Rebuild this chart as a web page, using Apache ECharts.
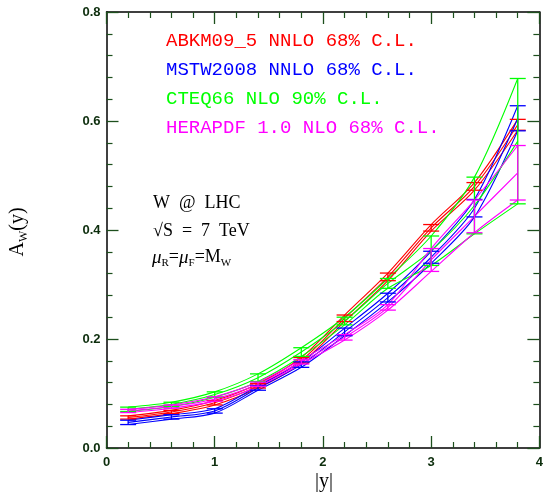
<!DOCTYPE html>
<html>
<head>
<meta charset="utf-8">
<script src="https://cdn.jsdelivr.net/npm/echarts@6/dist/echarts.min.js"></script>
<style>
html,body{margin:0;padding:0;background:#fff;}
#chart{width:546px;height:495px;}
</style>
</head>
<body>
<div id="chart"></div>
<script>
// |y| rapidity points
const xVals = [0.2, 0.6, 1.0, 1.4, 1.8, 2.2, 2.6, 3.0, 3.4, 3.8];

// ABKM09_5 NNLO 68% C.L.
const abkmMid = [0.056, 0.066, 0.083, 0.114, 0.161, 0.238, 0.314, 0.404, 0.480, 0.593];
const abkmErr = [0.003, 0.003, 0.004, 0.004, 0.005, 0.006, 0.007, 0.006, 0.007, 0.010];

// MSTW2008 NNLO 68% C.L.
const mstwMid = [0.047, 0.057, 0.068, 0.110, 0.153, 0.213, 0.276, 0.350, 0.440, 0.605];
const mstwErr = [0.004, 0.004, 0.004, 0.004, 0.005, 0.007, 0.008, 0.011, 0.016, 0.023];

// CTEQ66 NLO 90% C.L.
const cteqMid = [0.071, 0.080, 0.098, 0.129, 0.176, 0.233, 0.302, 0.362, 0.445, 0.563];
const cteqErr = [0.004, 0.004, 0.005, 0.007, 0.008, 0.007, 0.009, 0.027, 0.052, 0.115];

// HERAPDF 1.0 NLO 68% C.L.
const heraMid = [0.068, 0.076, 0.090, 0.117, 0.158, 0.203, 0.258, 0.345, 0.425, 0.505];
const heraErr = [0.003, 0.003, 0.004, 0.004, 0.004, 0.005, 0.005, 0.021, 0.030, 0.050];

const legendTexts = ['ABKM09_5 NNLO 68% C.L.', 'MSTW2008 NNLO 68% C.L.', 'CTEQ66 NLO 90% C.L.', 'HERAPDF 1.0 NLO 68% C.L.'];
const xTicks = [0, 1, 2, 3, 4];
const yTicks = [0.0, 0.2, 0.4, 0.6, 0.8];

const groups = [
  {name: legendTexts[0], mid: abkmMid, err: abkmErr, color: '#ff0000'},
  {name: legendTexts[1], mid: mstwMid, err: mstwErr, color: '#0000ff'},
  {name: legendTexts[2], mid: cteqMid, err: cteqErr, color: '#00ff00'},
  {name: legendTexts[3], mid: heraMid, err: heraErr, color: '#ff00ff'}
];

const chart = echarts.init(document.getElementById('chart'), null, {renderer: 'canvas'});
const tickColor = '#1d4f1d';
const labelColor = '#0d2e0d';

function mkX(pos, show) {
  return {
    type: 'value', min: 0, max: 4, interval: 1, position: pos,
    axisLine: {show: true, onZero: false, lineStyle: {color: '#000', width: 1.5}},
    axisTick: {show: true, inside: true, length: 12, lineStyle: {color: tickColor, width: 1.3}},
    minorTick: {show: true, splitNumber: 5, length: 6, lineStyle: {color: tickColor, width: 1.2}},
    splitLine: {show: false},
    axisLabel: {show: show, margin: 8, color: labelColor, fontWeight: 'bold', fontSize: 13,
      fontFamily: 'Liberation Sans, Arial, sans-serif',
      formatter: v => xTicks.indexOf(v) >= 0 ? String(v) : ''}
  };
}
function mkY(pos, show) {
  return {
    type: 'value', min: 0, max: 0.8, interval: 0.2, position: pos,
    axisLine: {show: true, onZero: false, lineStyle: {color: '#000', width: 1.5}},
    axisTick: {show: true, inside: true, length: 12, lineStyle: {color: tickColor, width: 1.3}},
    minorTick: {show: true, splitNumber: 5, length: 6, lineStyle: {color: tickColor, width: 1.2}},
    splitLine: {show: false},
    axisLabel: {show: show, margin: 6, color: labelColor, fontWeight: 'bold', fontSize: 13,
      fontFamily: 'Liberation Sans, Arial, sans-serif',
      formatter: v => v.toFixed(1)}
  };
}

const series = [];
groups.forEach(g => {
  const lo = xVals.map((x, i) => [x, +(g.mid[i] - g.err[i]).toFixed(4)]);
  const md = xVals.map((x, i) => [x, g.mid[i]]);
  const hi = xVals.map((x, i) => [x, +(g.mid[i] + g.err[i]).toFixed(4)]);
  [lo, md, hi].forEach(d => {
    series.push({
      type: 'line', data: d, smooth: 0.3, symbol: 'none',
      lineStyle: {color: g.color, width: 1.1}, xAxisIndex: 0, yAxisIndex: 0,
      silent: true, z: 2
    });
  });
  series.push({
    type: 'custom', xAxisIndex: 0, yAxisIndex: 0, z: 3, silent: true,
    data: xVals.map((x, i) => [x, g.mid[i] - g.err[i], g.mid[i] + g.err[i]]),
    renderItem: (params, api) => {
      const x = api.value(0);
      const pLo = api.coord([x, api.value(1)]);
      const pHi = api.coord([x, api.value(2)]);
      const hw = 8;
      const st = {stroke: g.color, lineWidth: 1.3};
      return {type: 'group', children: [
        {type: 'line', shape: {x1: pLo[0], y1: pLo[1], x2: pHi[0], y2: pHi[1]}, style: st},
        {type: 'line', shape: {x1: pLo[0] - hw, y1: pLo[1], x2: pLo[0] + hw, y2: pLo[1]}, style: st},
        {type: 'line', shape: {x1: pHi[0] - hw, y1: pHi[1], x2: pHi[0] + hw, y2: pHi[1]}, style: st}
      ]};
    }
  });
});

const serif = 'Liberation Serif, Times New Roman, serif';
const mono = 'Liberation Mono, DejaVu Sans Mono, monospace';

const graphics = [];
groups.forEach((g, i) => {
  graphics.push({type: 'text', left: 166, top: 31 + i * 29, silent: true,
    style: {text: g.name, fill: g.color, font: '19px ' + mono}});
});
graphics.push({type: 'text', left: 153, top: 194, silent: true,
  style: {text: 'W  @  LHC', fill: '#000', font: '18px ' + serif}});
graphics.push({type: 'text', left: 153, top: 222, silent: true,
  style: {text: '√S  =  7  TeV', fill: '#000', font: '18px ' + serif}});
graphics.push({type: 'text', left: 152, top: 248, silent: true,
  style: {
    text: '{i|μ}{s|R}{b|=}{i|μ}{s|F}{b|=M}{s|W}',
    fill: '#000',
    rich: {
      i: {font: 'italic 19px ' + serif, lineHeight: 22},
      b: {font: '18px ' + serif, lineHeight: 22},
      s: {font: '11px ' + serif, lineHeight: 8, verticalAlign: 'bottom'}
    }
  }});
// y-axis title A_W(y)
graphics.push({type: 'text', x: 18, y: 232, rotation: Math.PI / 2, silent: true,
  style: {
    text: '{b|A}{s|W}{b|(y)}', align: 'center', verticalAlign: 'middle', fill: '#000',
    rich: {
      b: {font: '20px ' + serif, lineHeight: 24},
      s: {font: '12px ' + serif, lineHeight: 8, verticalAlign: 'bottom'}
    }
  }});
// x-axis title |y|
graphics.push({type: 'text', x: 324, y: 482, silent: true,
  style: {text: '|y|', align: 'center', verticalAlign: 'middle', fill: '#000', font: '20px ' + serif}});

chart.setOption({
  animation: false,
  backgroundColor: '#fff',
  grid: {left: 106.5, right: 3.5, top: 12, bottom: 47, containLabel: false},
  xAxis: [mkX('bottom', true), mkX('top', false)],
  yAxis: [mkY('left', true), mkY('right', false)],
  series: series,
  graphic: graphics
});
</script>
</body>
</html>
